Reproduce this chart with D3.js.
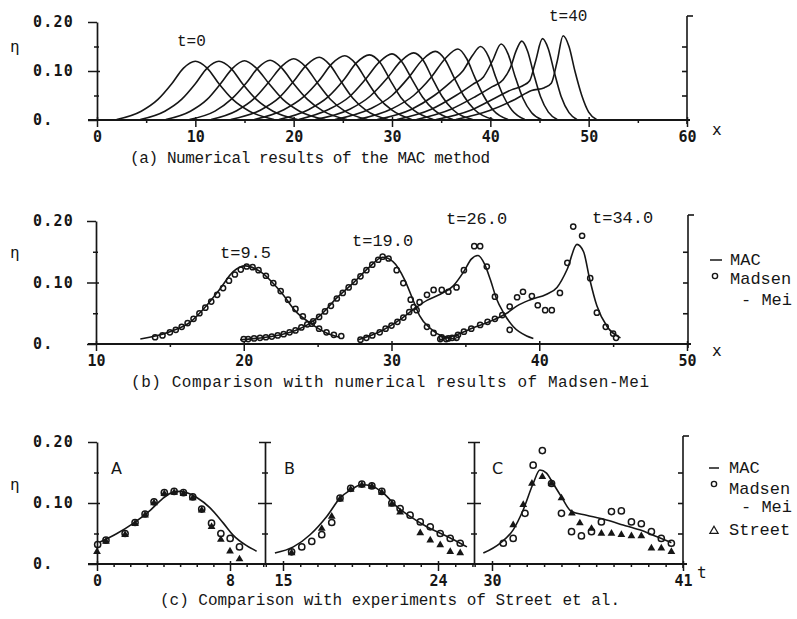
<!DOCTYPE html>
<html>
<head>
<meta charset="utf-8">
<script src="https://cdn.jsdelivr.net/npm/d3@7"></script>
<style>
  body { margin: 0; background: #fff; }
  svg { display: block; }
</style>
</head>
<body>
<svg id="fig" width="797" height="619"></svg>
<script>
// ---- data ----

// (a) MAC runs, one profile per t = 0, 2.5, ... 40  ([x, eta])
const runsA = [
  [[2,0.001],[4.5,0.018],[6.2,0.042],[7.6,0.074],[8.8,0.106],[10,0.12],[11.2,0.106],[12.4,0.074],[13.8,0.042],[15.5,0.018],[18,0.001]],
  [[4.4,0.001],[6.9,0.018],[8.6,0.042],[10.0,0.074],[11.2,0.106],[12.4,0.12],[13.6,0.106],[14.8,0.074],[16.2,0.042],[17.9,0.018],[20.4,0.001]],
  [[7,0.001],[9.5,0.018],[11.2,0.042],[12.6,0.075],[13.8,0.106],[15,0.121],[16.2,0.106],[17.5,0.074],[18.9,0.042],[20.6,0.018],[23.2,0.001]],
  [[9.4,0.001],[12,0.018],[13.7,0.043],[15.2,0.076],[16.4,0.107],[17.6,0.122],[18.8,0.106],[20.0,0.074],[21.4,0.042],[23.0,0.018],[25.4,0.001]],
  [[11.6,0.001],[14.2,0.019],[16.0,0.044],[17.5,0.078],[18.8,0.11],[20,0.125],[21.2,0.109],[22.4,0.076],[23.7,0.043],[25.2,0.018],[27.5,0.001]],
  [[13.6,0.001],[16.6,0.02],[18.5,0.045],[20.0,0.079],[21.3,0.112],[22.6,0.128],[23.7,0.112],[24.8,0.079],[26.0,0.045],[27.4,0.019],[29.6,0.001]],
  [[16.0,0.001],[19.0,0.021],[21.0,0.047],[22.6,0.081],[23.9,0.115],[25.2,0.131],[26.3,0.115],[27.4,0.081],[28.6,0.046],[30.0,0.02],[32.0,0.001]],
  [[18.5,0.001],[21.5,0.021],[23.5,0.047],[25.1,0.082],[26.4,0.117],[27.7,0.133],[28.8,0.117],[29.8,0.082],[30.9,0.046],[32.2,0.02],[34.2,0.001]],
  [[20.5,0.001],[23.6,0.022],[25.7,0.048],[27.3,0.083],[28.7,0.118],[30,0.135],[31.0,0.119],[32.0,0.084],[33.1,0.047],[34.3,0.02],[36.2,0.001]],
  [[22.2,0.001],[25.7,0.022],[27.8,0.049],[29.5,0.085],[30.9,0.12],[32.2,0.137],[33.2,0.121],[34.1,0.085],[35.1,0.048],[36.2,0.021],[38.2,0.001]],
  [[24.2,0.001],[27.8,0.023],[30.0,0.05],[31.7,0.087],[33.1,0.123],[34.4,0.14],[35.4,0.123],[36.3,0.087],[37.3,0.049],[38.4,0.021],[40.3,0.001]],
  [[26.5,0.001],[30.0,0.023],[32.2,0.05],[33.9,0.085],[35.4,0.125],[36.7,0.145],[37.6,0.125],[38.4,0.088],[39.3,0.05],[40.3,0.02],[41.8,0.001]],
  [[28.5,0.001],[32,0.022],[34.3,0.05],[36.0,0.078],[37.2,0.1],[38.2,0.132],[39.0,0.15],[39.8,0.13],[40.5,0.09],[41.3,0.05],[42.2,0.02],[43.5,0.001]],
  [[30.5,0.001],[34,0.022],[36.5,0.05],[38.3,0.074],[39.3,0.088],[40.2,0.12],[41.1,0.155],[41.8,0.135],[42.5,0.09],[43.3,0.045],[44.2,0.015],[45.2,0.001]],
  [[32.5,0.001],[36,0.022],[38.5,0.048],[40.2,0.068],[41.3,0.082],[42.1,0.11],[42.6,0.14],[43.2,0.161],[43.8,0.14],[44.4,0.095],[45.1,0.048],[45.9,0.016],[46.8,0.001]],
  [[34.5,0.001],[38,0.02],[40.5,0.045],[42.2,0.062],[43.3,0.07],[44.0,0.08],[44.6,0.12],[45.3,0.166],[45.9,0.145],[46.5,0.098],[47.2,0.048],[48.0,0.015],[48.8,0.001]],
  [[36.5,0.001],[40,0.02],[42.5,0.042],[44.2,0.06],[45.5,0.066],[46.2,0.075],[46.8,0.12],[47.4,0.172],[48.0,0.15],[48.6,0.1],[49.3,0.05],[50.0,0.016],[50.8,0.001]]
];

// (b) MAC lines and Madsen-Mei points
const macB95 = [[13.0,0.008],[15.0,0.02],[16.4,0.036],[17.5,0.063],[18.4,0.09],[19.3,0.118],[20.1,0.127],[21.1,0.118],[22.5,0.085],[23.6,0.051],[24.5,0.034],[25.6,0.018],[26.5,0.011]];
const macB19 = [[19.75,0.007],[21.5,0.011],[22.5,0.015],[23.5,0.022],[24.3,0.031],[25.2,0.047],[26.3,0.075],[27.4,0.099],[28.5,0.125],[29.4,0.141],[30.1,0.134],[30.9,0.104],[31.5,0.069],[31.9,0.046],[32.6,0.026],[33.5,0.012],[34.4,0.008]];
const macB26 = [[27.75,0.007],[29.2,0.02],[30.6,0.04],[31.7,0.06],[32.4,0.071],[33.3,0.081],[34.2,0.095],[34.9,0.118],[35.4,0.138],[35.85,0.144],[36.3,0.13],[36.7,0.104],[37.1,0.074],[37.6,0.05],[38.25,0.028],[39.15,0.013],[39.6,0.009]];
const macB34 = [[33.2,0.006],[34.5,0.016],[35.5,0.026],[36.7,0.037],[37.8,0.05],[38.5,0.062],[39.4,0.072],[40.5,0.081],[41.2,0.092],[41.9,0.122],[42.55,0.162],[43.0,0.15],[43.4,0.107],[43.9,0.062],[44.6,0.028],[45.5,0.01]];

const mmB95 = [[14.0,0.011],[14.5,0.014],[15.0,0.019],[15.4,0.023],[15.8,0.028],[16.2,0.034],[16.6,0.041],[17.0,0.05],[17.4,0.059],[17.8,0.069],[18.2,0.08],[18.6,0.091],[19.0,0.103],[19.4,0.113],[19.8,0.121],[20.2,0.126],[20.6,0.125],[21.0,0.12],[21.5,0.111],[22.0,0.099],[22.5,0.086],[23.0,0.072],[23.5,0.057],[24.0,0.045],[24.6,0.033],[25.1,0.025],[25.6,0.019],[26.1,0.015],[26.6,0.013]];
const mmB19 = [[20.0,0.008],[20.3,0.008],[20.7,0.009],[21.1,0.01],[21.5,0.011],[21.9,0.012],[22.3,0.014],[22.7,0.016],[23.1,0.019],[23.5,0.022],[23.9,0.027],[24.3,0.032],[24.7,0.037],[25.1,0.044],[25.5,0.053],[25.9,0.062],[26.3,0.074],[26.7,0.083],[27.1,0.092],[27.5,0.101],[27.9,0.11],[28.3,0.12],[28.7,0.129],[29.1,0.137],[29.4,0.142],[29.8,0.139],[30.35,0.12],[30.8,0.099],[31.3,0.072],[31.7,0.055],[32.4,0.028],[32.85,0.018],[33.4,0.011],[33.85,0.009],[34.4,0.01]];
const mmB26 = [[27.9,0.007],[28.3,0.01],[28.7,0.014],[29.2,0.019],[29.6,0.025],[30.0,0.03],[30.4,0.036],[30.8,0.043],[31.2,0.052],[31.5,0.06],[31.9,0.068],[32.4,0.08],[32.85,0.088],[33.4,0.088],[33.85,0.085],[34.4,0.092],[34.9,0.12],[35.6,0.159],[36.0,0.159],[36.45,0.126],[37.0,0.077],[38.0,0.023]];
const mmB34 = [[33.3,0.008],[33.7,0.008],[34.1,0.01],[34.5,0.015],[34.9,0.02],[35.4,0.025],[36.0,0.031],[36.5,0.036],[37.0,0.041],[37.5,0.047],[38.0,0.061],[38.5,0.076],[38.9,0.085],[39.5,0.078],[39.9,0.063],[40.4,0.055],[40.85,0.055],[41.4,0.083],[41.9,0.132],[42.3,0.191],[42.9,0.176],[43.45,0.107],[43.9,0.051],[44.5,0.028],[45.0,0.017],[45.2,0.01]];

// (c) gauges A, B, C: MAC line, Madsen-Mei circles, Street triangles ([t, eta])
const gaugeAmac = [[0.18,0.036],[1.2,0.05],[2.2,0.067],[3.2,0.088],[3.9,0.106],[4.5,0.117],[5.0,0.119],[5.5,0.116],[6.0,0.109],[6.8,0.092],[7.6,0.067],[8.2,0.047],[9.0,0.03],[9.6,0.021]];
const gaugeAmm = [[0.04,0.032],[0.54,0.039],[1.69,0.05],[2.29,0.068],[2.89,0.082],[3.43,0.102],[4.05,0.117],[4.64,0.119],[5.2,0.117],[5.76,0.11],[6.3,0.09],[6.89,0.067],[7.45,0.05],[8.01,0.042],[8.57,0.028]];
const gaugeAst = [[0.0,0.02],[0.54,0.037],[1.69,0.048],[2.29,0.066],[2.89,0.08],[3.43,0.1],[4.05,0.115],[4.64,0.117],[5.2,0.115],[5.76,0.108],[6.3,0.088],[6.89,0.061],[7.45,0.04],[8.0,0.021],[8.57,0.008]];

const gaugeBmac = [[14.53,0.018],[15.6,0.028],[16.57,0.048],[17.54,0.078],[18.31,0.108],[18.9,0.121],[19.58,0.13],[20.16,0.128],[20.83,0.116],[21.61,0.094],[22.38,0.078],[23.35,0.061],[24.32,0.048],[25.1,0.037],[25.68,0.028]];
const gaugeBmm = [[15.5,0.02],[16.09,0.028],[16.67,0.037],[17.25,0.048],[17.83,0.068],[18.31,0.108],[18.93,0.124],[19.58,0.131],[20.16,0.128],[20.74,0.119],[21.32,0.1],[21.8,0.091],[22.38,0.08],[22.97,0.069],[23.55,0.061],[24.13,0.05],[24.71,0.042],[25.29,0.034]];
const gaugeBst = [[15.5,0.018],[17.25,0.058],[17.83,0.078],[18.31,0.106],[18.93,0.122],[19.58,0.129],[20.16,0.127],[20.74,0.117],[21.32,0.098],[21.8,0.085],[22.97,0.051],[23.55,0.039],[24.13,0.031],[24.71,0.02],[25.29,0.018]];

const gaugeCmac = [[29.5,0.018],[30.46,0.034],[31.22,0.056],[31.8,0.089],[32.37,0.132],[32.76,0.154],[33.14,0.149],[33.52,0.132],[34.0,0.11],[34.58,0.086],[35.44,0.08],[36.59,0.072],[37.55,0.064],[38.5,0.056],[39.47,0.045],[40.33,0.035]];
const gaugeCmm = [[30.65,0.034],[31.22,0.042],[31.9,0.083],[32.37,0.162],[32.9,0.186],[33.43,0.132],[34.0,0.083],[34.58,0.053],[35.15,0.046],[35.73,0.053],[36.3,0.069],[36.88,0.086],[37.45,0.087],[38.03,0.069],[38.6,0.066],[39.18,0.053],[39.75,0.042],[40.33,0.034]];
const gaugeCst = [[31.22,0.064],[31.8,0.097],[32.3,0.132],[32.9,0.143],[33.43,0.132],[34.0,0.108],[34.6,0.083],[35.06,0.067],[35.73,0.058],[36.3,0.05],[36.88,0.05],[37.45,0.048],[38.03,0.046],[38.6,0.046],[39.18,0.026],[39.75,0.026],[40.33,0.02]];

// ticks
const yMajor = [0, 0.1, 0.2];
const yMinor = [0.05, 0.15];
const xTicksA = [0, 10, 20, 30, 40, 50, 60];
const xMinorA = [5, 15, 25, 35, 45, 55];
const xTicksB = [10, 20, 30, 40, 50];
const xMinorB = [15, 25, 35, 45];
const tTicksCA = [0, 8], tTicksCB = [15, 24], tTicksCC = [30, 41];

// ---- drawing ----
const svg = d3.select("#fig");
const INK = "#161616";
const TICK_FONT = "'DejaVu Sans Mono', monospace";
const TYPE_FONT = "'Liberation Mono', 'Courier New', monospace";

const xA = d3.scaleLinear([0, 60], [97, 687]);
const yA = d3.scaleLinear([0, 0.2], [120, 22]);
const xB = d3.scaleLinear([10, 50], [96, 687]);
const yB = d3.scaleLinear([0, 0.2], [344, 221]);
const yC = d3.scaleLinear([0, 0.2], [564, 442]);
const xCA = d3.scaleLinear([0, 8], [97, 230]);
const xCB = d3.scaleLinear([15, 24], [283, 438]);
const xCC = d3.scaleLinear([30, 41], [492, 683]);

const fmtY = d => d === 0 ? "0." : d.toFixed(2);

function styleAxis(g) {
  g.selectAll(".domain").attr("stroke", INK).attr("stroke-width", 1.7);
  g.selectAll(".tick line").attr("stroke", INK).attr("stroke-width", 1.5);
  g.selectAll("text").attr("fill", INK).attr("font-family", TICK_FONT)
    .attr("font-size", 15).attr("font-weight", "bold");
}

function text(x, y, str, size, font, anchor) {
  return svg.append("text").attr("x", x).attr("y", y).text(str)
    .attr("font-family", font || TYPE_FONT).attr("font-size", size || 16)
    .attr("text-anchor", anchor || "start").attr("fill", INK);
}

function leftAxis(px, y) {
  const g = svg.append("g").attr("transform", `translate(${px},0)`)
    .call(d3.axisLeft(y).tickValues(yMajor).tickSize(9).tickSizeOuter(0).tickFormat(fmtY));
  g.selectAll(".tick line").attr("x1", d => d === 0.1 ? 3 : 0);
  g.selectAll(".tick text").attr("x", 33 - px).attr("text-anchor", "start")
    .attr("letter-spacing", 1.2);
  const m = svg.append("g").attr("transform", `translate(${px},0)`)
    .call(d3.axisLeft(y).tickValues(yMinor).tickSize(3).tickSizeOuter(0).tickFormat(""));
  m.select(".domain").remove();
  m.selectAll(".tick line").attr("x1", 2);
  styleAxis(g); styleAxis(m);
}

function midAxis(px, y) {
  const g = svg.append("g").attr("transform", `translate(${px},0)`)
    .call(d3.axisLeft(y).tickValues([0.05, 0.1, 0.15, 0.2]).tickSizeOuter(0).tickFormat(""));
  g.selectAll(".tick line")
    .attr("x1", d => d === 0.2 ? 6 : (d === 0.1 ? 7 : 3))
    .attr("x2", d => d === 0.2 ? -6 : (d === 0.1 ? -7 : -3));
  styleAxis(g);
}

function rightAxis(px, y) {
  const top = y(0.2) - 6;
  const g = svg.append("g").attr("transform", `translate(${px},0)`)
    .call(d3.axisLeft(y).tickValues([0.05, 0.1, 0.15]).tickSize(5).tickSizeOuter(0).tickFormat(""));
  g.select(".domain").remove();
  g.append("line").attr("x1", 0).attr("x2", 0).attr("y1", top).attr("y2", y(0) + 4);
  g.append("line").attr("x1", 0).attr("x2", 6).attr("y1", top).attr("y2", top);
  g.selectAll("line").attr("stroke", INK).attr("stroke-width", 1.6);
}

function bottomAxis(x, y0, major, minor, labelDy) {
  const g = svg.append("g").attr("transform", `translate(0,${y0})`)
    .call(d3.axisBottom(x).tickValues(major).tickSize(7).tickSizeOuter(0).tickFormat(d3.format("d")));
  g.select(".domain").remove();
  g.selectAll(".tick line").attr("y1", -3);
  g.selectAll(".tick text").attr("y", labelDy).attr("dy", 0);
  const m = svg.append("g").attr("transform", `translate(0,${y0})`)
    .call(d3.axisBottom(x).tickValues(minor).tickSize(3).tickSizeOuter(0).tickFormat(""));
  m.select(".domain").remove();
  styleAxis(g); styleAxis(m);
}

function baseline(x0, x1, y0) {
  svg.append("line").attr("x1", x0).attr("x2", x1).attr("y1", y0).attr("y2", y0)
    .attr("stroke", INK).attr("stroke-width", 1.8);
}

function macLine(data, x, y) {
  const line = d3.line().x(d => x(d[0])).y(d => y(d[1])).curve(d3.curveMonotoneX);
  svg.append("path").datum(data).attr("d", line)
    .attr("fill", "none").attr("stroke", INK).attr("stroke-width", 1.6);
}

function circles(data, x, y, r) {
  svg.append("g").selectAll("circle").data(data).join("circle")
    .attr("cx", d => x(d[0])).attr("cy", d => y(d[1])).attr("r", r)
    .attr("fill", "none").attr("stroke", INK).attr("stroke-width", 1.5);
}

function triangles(data, x, y) {
  const sym = d3.symbol(d3.symbolTriangle).size(26);
  svg.append("g").selectAll("path").data(data).join("path")
    .attr("transform", d => `translate(${x(d[0])},${y(d[1])})`)
    .attr("d", sym).attr("fill", INK);
}

// ---------- panel (a) ----------
baseline(88, 690, yA(0));
leftAxis(97, yA);
rightAxis(687, yA);
bottomAxis(xA, yA(0), xTicksA, xMinorA, 22);
runsA.forEach(r => macLine(r, xA, yA));
text(10, 52, "η", 16, TICK_FONT);
text(177, 46, "t=0", 16);
text(549, 21, "t=40", 16);
text(712, 135, "x", 16, TICK_FONT);
text(130, 163, "(a) Numerical results of the MAC method", 16).attr("textLength", 360);

// ---------- panel (b) ----------
baseline(88, 691, yB(0));
leftAxis(96, yB);
rightAxis(688, yB);
bottomAxis(xB, yB(0), xTicksB, xMinorB, 22);
[macB95, macB19, macB26, macB34].forEach(d => macLine(d, xB, yB));
[mmB95, mmB19, mmB26, mmB34].forEach(d => circles(d, xB, yB, 2.6));
text(10, 258, "η", 16, TICK_FONT);
text(220, 258, "t=9.5", 17);
text(352, 246, "t=19.0", 17);
text(446, 224, "t=26.0", 17);
text(592, 223, "t=34.0", 17);
text(712, 356, "x", 16, TICK_FONT);
svg.append("line").attr("x1", 710).attr("x2", 722).attr("y1", 260).attr("y2", 260)
  .attr("stroke", INK).attr("stroke-width", 1.5);
text(730, 265, "MAC", 17);
svg.append("circle").attr("cx", 715).attr("cy", 276).attr("r", 2.6)
  .attr("fill", "none").attr("stroke", INK).attr("stroke-width", 1.4);
text(730, 284, "Madsen", 17);
text(741, 305, "- Mei", 17);
text(131, 387, "(b) Comparison with numerical results of Madsen-Mei", 16).attr("textLength", 518);

// ---------- panel (c) ----------
baseline(88, 687, yC(0));
leftAxis(97, yC);
midAxis(265, yC);
midAxis(474, yC);
rightAxis(683, yC);
bottomAxis(xCA, yC(0), tTicksCA, d3.range(1, 11).filter(v => v !== 8), 22);
bottomAxis(xCB, yC(0), tTicksCB, d3.range(14, 27).filter(v => v !== 15 && v !== 24), 22);
bottomAxis(xCC, yC(0), tTicksCC, d3.range(29, 41).filter(v => v !== 30), 22);
macLine(gaugeAmac, xCA, yC);
macLine(gaugeBmac, xCB, yC);
macLine(gaugeCmac, xCC, yC);
circles(gaugeAmm, xCA, yC, 3.1);
circles(gaugeBmm, xCB, yC, 3.1);
circles(gaugeCmm, xCC, yC, 3.1);
triangles(gaugeAst, xCA, yC);
triangles(gaugeBst, xCB, yC);
triangles(gaugeCst, xCC, yC);
text(10, 490, "η", 16, TICK_FONT);
text(111, 474, "A", 16, "'DejaVu Sans', sans-serif");
text(284, 474, "B", 16, "'DejaVu Sans', sans-serif");
text(492, 474, "C", 16, "'DejaVu Sans', sans-serif");
text(697, 578, "t", 16, TICK_FONT);
svg.append("line").attr("x1", 709).attr("x2", 719).attr("y1", 468).attr("y2", 468)
  .attr("stroke", INK).attr("stroke-width", 1.5);
text(729, 473, "MAC", 17);
svg.append("circle").attr("cx", 714).attr("cy", 484).attr("r", 2.6)
  .attr("fill", "none").attr("stroke", INK).attr("stroke-width", 1.4);
text(729, 494, "Madsen", 17);
text(741, 512, "- Mei", 17);
svg.append("path").attr("transform", "translate(714,531)")
  .attr("d", d3.symbol(d3.symbolTriangle).size(30))
  .attr("fill", "none").attr("stroke", INK).attr("stroke-width", 1.2);
text(729, 535, "Street", 17);
text(160, 605, "(c) Comparison with experiments of Street et al.", 16).attr("textLength", 460);
</script>
</body>
</html>
